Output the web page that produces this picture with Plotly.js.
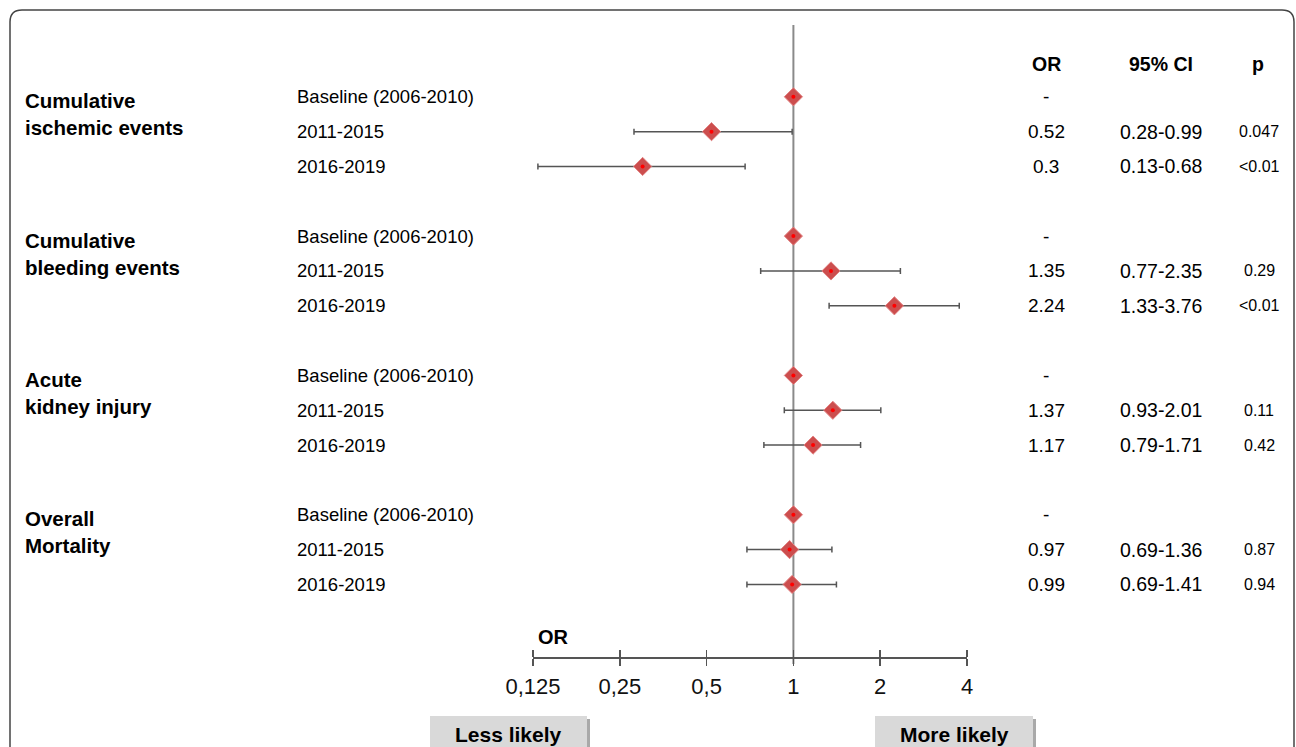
<!DOCTYPE html>
<html>
<head>
<meta charset="utf-8">
<script src="https://cdn.plot.ly/plotly-3.0.1.min.js"></script>
<style>
  html, body { margin: 0; padding: 0; background: #fff; }
  #chart { width: 1296px; height: 747px; }
</style>
</head>
<body>
<div id="chart"></div>
<script>
// ---------- data ----------
const groups = ['Cumulative<br>ischemic events', 'Cumulative<br>bleeding events', 'Acute<br>kidney injury', 'Overall<br>Mortality'];
const periods = ['Baseline (2006-2010)', '2011-2015', '2016-2019'];
const orValues = [1, 0.52, 0.3, 1, 1.35, 2.24, 1, 1.37, 1.17, 1, 0.97, 0.99];
const ciLow = [null, 0.28, 0.13, null, 0.77, 1.33, null, 0.93, 0.79, null, 0.69, 0.69];
const ciHigh = [null, 0.99, 0.68, null, 2.35, 3.76, null, 2.01, 1.71, null, 1.36, 1.41];
const orText = ['-', '0.52', '0.3', '-', '1.35', '2.24', '-', '1.37', '1.17', '-', '0.97', '0.99'];
const ciText = ['', '0.28-0.99', '0.13-0.68', '', '0.77-2.35', '1.33-3.76', '', '0.93-2.01', '0.79-1.71', '', '0.69-1.36', '0.69-1.41'];
const pText = ['', '0.047', '<0.01', '', '0.29', '<0.01', '', '0.11', '0.42', '', '0.87', '0.94'];
const tickVals = [0.125, 0.25, 0.5, 1, 2, 4];
const tickText = ['0,125', '0,25', '0,5', '1', '2', '4'];
const refOR = 1;
const headers = ['OR', '95% CI', 'p'];
const sideLabels = ['Less likely', 'More likely'];

// ---------- layout helpers ----------
const W = 1296, H = 747;
const ROW0 = 96.8, ROWH = 34.83;           // pixel of row index 0, pixel per row
const yIdx = p => (p - ROW0) / ROWH;       // pixel -> row coordinate
const px = x => x / W;
const py = y => 1 - y / H;
const FONT = 'Liberation Sans, Arial, sans-serif';

const rowY = [];
const rowPeriod = [];
groups.forEach((g, gi) => periods.forEach((p, pi) => { rowY.push(gi * 4 + pi); rowPeriod.push(p); }));

const errPlus = orValues.map((v, i) => ciHigh[i] == null ? null : ciHigh[i] - v);
const errMinus = orValues.map((v, i) => ciLow[i] == null ? null : v - ciLow[i]);

const traces = [
  { // reference line at OR = 1
    x: [refOR, refOR], y: [yIdx(25), yIdx(664)], mode: 'lines', type: 'scatter',
    line: { color: '#8a8a8a', width: 2 }, hoverinfo: 'skip', showlegend: false
  },
  { // estimates with CI
    x: orValues, y: rowY, mode: 'markers', type: 'scatter', showlegend: false,
    marker: { symbol: 'diamond', size: 14, color: 'rgb(204,78,78)', line: { color: 'rgb(226,130,130)', width: 1 } },
    error_x: { type: 'data', symmetric: false, array: errPlus, arrayminus: errMinus, color: '#555', thickness: 1.5, width: 3 }
  },
  { // centre dots
    x: orValues, y: rowY, mode: 'markers', type: 'scatter', showlegend: false, hoverinfo: 'skip',
    marker: { symbol: 'circle', size: 4, color: '#ff0000' }
  }
];

const ann = [];
groups.forEach((g, gi) => ann.push({
  text: '<b>' + g + '</b>', xref: 'paper', yref: 'y', x: px(23), y: gi * 4 + 0.5,
  xanchor: 'left', yanchor: 'middle', align: 'left', showarrow: false,
  font: { family: FONT, size: 20.5, color: '#000' }
}));
rowY.forEach((y, i) => {
  ann.push({ text: rowPeriod[i], xref: 'paper', yref: 'y', x: px(295), y: y, xanchor: 'left', yanchor: 'middle',
    showarrow: false, font: { family: FONT, size: 18.5, color: '#000' } });
  ann.push({ text: orText[i], xref: 'paper', yref: 'y', x: px(1046), y: y, xanchor: 'center', yanchor: 'middle',
    showarrow: false, font: { family: FONT, size: 19, color: '#000' } });
  if (ciText[i]) ann.push({ text: ciText[i], xref: 'paper', yref: 'y', x: px(1161), y: y, xanchor: 'center', yanchor: 'middle',
    showarrow: false, font: { family: FONT, size: 19.5, color: '#000' } });
  if (pText[i]) ann.push({ text: pText[i], xref: 'paper', yref: 'y', x: px(1259), y: y, xanchor: 'center', yanchor: 'middle',
    showarrow: false, font: { family: FONT, size: 16, color: '#000' } });
});
[1046, 1161, 1258].forEach((cx, i) => ann.push({
  text: '<b>' + headers[i] + '</b>', xref: 'paper', yref: 'y', x: px(cx), y: yIdx(64), xanchor: 'center', yanchor: 'middle',
  showarrow: false, font: { family: FONT, size: 19.5, color: '#000' }
}));
ann.push({ text: '<b>OR</b>', xref: 'paper', yref: 'paper', x: px(553), y: py(637), xanchor: 'center', yanchor: 'middle',
  showarrow: false, font: { family: FONT, size: 20, color: '#000' } });
[[508, sideLabels[0]], [954, sideLabels[1]]].forEach(([cx, t]) => ann.push({
  text: '<b>' + t + '</b>', xref: 'paper', yref: 'paper', x: px(cx), y: py(734), xanchor: 'center', yanchor: 'middle',
  showarrow: false, font: { family: FONT, size: 21, color: '#000' }
}));

const r = 12;
const framePath = `M ${px(10)},${py(770)} L ${px(10)},${py(10 + r)} Q ${px(10)},${py(10)} ${px(10 + r)},${py(10)} ` +
  `L ${px(1294 - r)},${py(10)} Q ${px(1294)},${py(10)} ${px(1294)},${py(10 + r)} L ${px(1294)},${py(770)}`;
const shapes = [
  { type: 'path', xref: 'paper', yref: 'paper', path: framePath, line: { color: '#444', width: 1.5 } },
  { type: 'rect', xref: 'paper', yref: 'paper', x0: px(433), x1: px(590), y0: py(770), y1: py(719), fillcolor: '#a9a9a9', line: { width: 0 }, layer: 'below' },
  { type: 'rect', xref: 'paper', yref: 'paper', x0: px(430), x1: px(587), y0: py(770), y1: py(716), fillcolor: '#d9d9d9', line: { width: 0 }, layer: 'below' },
  { type: 'rect', xref: 'paper', yref: 'paper', x0: px(878), x1: px(1036), y0: py(770), y1: py(719), fillcolor: '#a9a9a9', line: { width: 0 }, layer: 'below' },
  { type: 'rect', xref: 'paper', yref: 'paper', x0: px(875), x1: px(1033), y0: py(770), y1: py(716), fillcolor: '#d9d9d9', line: { width: 0 }, layer: 'below' }
];

const xr = [Math.log10(0.125), Math.log10(4)];
const layout = {
  width: W, height: H, autosize: false,
  margin: { l: 0, r: 0, t: 0, b: 0, pad: 0 },
  paper_bgcolor: '#fff', plot_bgcolor: 'rgba(0,0,0,0)',
  showlegend: false,
  xaxis: {
    type: 'log', range: xr, domain: [px(533), px(967)], anchor: 'free', position: py(657),
    showgrid: false, zeroline: false, showline: true, linecolor: '#555', linewidth: 1.5,
    ticks: 'outside', ticklen: 7, tickwidth: 1.5, tickcolor: '#555',
    tickmode: 'array', tickvals: tickVals, ticktext: tickText, ticklabelstandoff: 2,
    tickfont: { family: FONT, size: 22, color: '#111' }, fixedrange: true
  },
  xaxis2: {
    type: 'log', range: xr, domain: [px(533), px(967)], anchor: 'free', position: py(657), overlaying: 'x', side: 'top',
    showgrid: false, zeroline: false, showline: false,
    ticks: 'outside', ticklen: 7, tickwidth: 1.5, tickcolor: '#555',
    tickmode: 'array', tickvals: tickVals, showticklabels: false, fixedrange: true
  },
  yaxis: { range: [yIdx(H), yIdx(0)], domain: [0, 1], visible: false, fixedrange: true },
  annotations: ann,
  shapes: shapes
};
// dummy trace to show the second axis
traces.push({ x: [refOR], y: [null], xaxis: 'x2', type: 'scatter', mode: 'markers', showlegend: false, hoverinfo: 'skip' });

Plotly.newPlot('chart', traces, layout, { displayModeBar: false, staticPlot: true });
</script>
</body>
</html>
